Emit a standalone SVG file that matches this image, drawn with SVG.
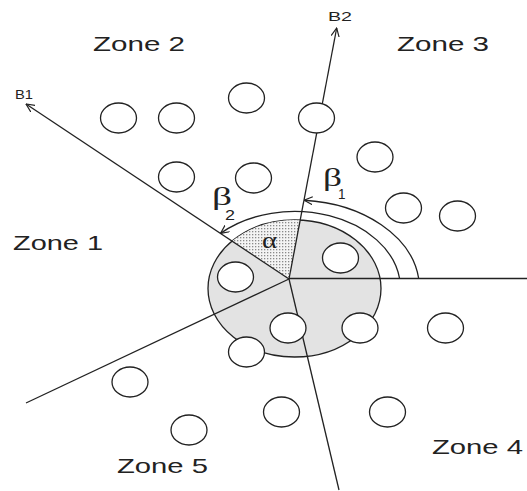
<svg xmlns="http://www.w3.org/2000/svg" width="527" height="491" viewBox="0 0 527 491">
  <style>
    .ln { fill: none; stroke: #222; stroke-width: 1.3; }
    .nd { fill: #fff; stroke: #222; stroke-width: 1.3; }
    .zone { font-family: "Liberation Sans", Arial, sans-serif; font-size: 21px; fill: #222; }
    .lbl { font-family: "Liberation Sans", Arial, sans-serif; font-size: 13px; fill: #222; }
    .gr { font-family: "Liberation Serif", "Times New Roman", serif; fill: #222; }
    .sub { font-family: "Liberation Sans", Arial, sans-serif; font-size: 14px; fill: #222; }
  </style>
  <defs>
    <marker id="arr" viewBox="0 0 10 10" refX="9.5" refY="5" markerWidth="9" markerHeight="9" markerUnits="userSpaceOnUse" orient="auto-start-reverse">
      <path d="M0,0.5 L9.5,5 L0,9.5" fill="none" stroke="#222" stroke-width="1.3"/>
    </marker>
    <pattern id="dots" width="3" height="3" patternUnits="userSpaceOnUse">
      <rect width="3" height="3" fill="#f4f4f4"/>
      <rect width="1.3" height="1.3" fill="#8a8a8a"/>
    </pattern>
  </defs>

  <rect width="527" height="491" fill="#fff"/>

  <!-- coverage region -->
  <g id="coverage">
    <ellipse cx="294.5" cy="288.5" rx="86.5" ry="68.5" fill="#e3e3e3" stroke="#222" stroke-width="1.3"/>
    <path id="alpha-sector" d="M289,279 L232.05,241.11 A86.5,68.5 0 0 1 300.25,220.15 Z" fill="url(#dots)" stroke="none"/>
  </g>

  <!-- connectors / boundary lines -->
  <g id="connectors">
    <path class="ln" d="M289,279 L26,104" marker-end="url(#arr)"/>
    <path class="ln" d="M289,279 L336.7,28" marker-end="url(#arr)"/>
    <path class="ln" d="M289,279 L339,490"/>
    <path class="ln" d="M289,279 L26,403"/>
    <path class="ln" d="M289,278.5 L527,278.5"/>
    <path class="ln" d="M220.46,233.39 A106,77 0 0 1 399.6,278.5" marker-start="url(#arr)"/>
    <path class="ln" d="M304.06,200.26 A125,88.5 0 0 1 418.7,278.5" marker-start="url(#arr)"/>
  </g>

  <!-- nodes -->
  <g id="n1"><ellipse class="nd" cx="118.5" cy="118" rx="18" ry="15"/></g>
  <g id="n2"><ellipse class="nd" cx="176.5" cy="118" rx="18" ry="15" stroke-width="1.9"/></g>
  <g id="n3"><ellipse class="nd" cx="246.5" cy="98" rx="18" ry="15"/></g>
  <g id="n4"><ellipse class="nd" cx="316.5" cy="118" rx="18" ry="15"/></g>
  <g id="n5"><ellipse class="nd" cx="375" cy="157" rx="18" ry="15"/></g>
  <g id="n6"><ellipse class="nd" cx="403.5" cy="208" rx="18" ry="15"/></g>
  <g id="n7"><ellipse class="nd" cx="457.5" cy="216" rx="18" ry="15"/></g>
  <g id="n8"><ellipse class="nd" cx="253.5" cy="178" rx="18" ry="15"/></g>
  <g id="n9"><ellipse class="nd" cx="176.5" cy="177" rx="18" ry="15"/></g>
  <g id="n10"><ellipse class="nd" cx="235.5" cy="277" rx="18" ry="15"/></g>
  <g id="n11"><ellipse class="nd" cx="340.5" cy="258" rx="18" ry="15"/></g>
  <g id="n12"><ellipse class="nd" cx="288" cy="328" rx="18" ry="15"/></g>
  <g id="n13"><ellipse class="nd" cx="246.5" cy="352" rx="18" ry="15"/></g>
  <g id="n14"><ellipse class="nd" cx="360" cy="328" rx="18" ry="15"/></g>
  <g id="n15"><ellipse class="nd" cx="445.5" cy="328" rx="18" ry="15"/></g>
  <g id="n16"><ellipse class="nd" cx="281.5" cy="412" rx="18" ry="15"/></g>
  <g id="n17"><ellipse class="nd" cx="387.5" cy="412" rx="18" ry="15"/></g>
  <g id="n18"><ellipse class="nd" cx="130" cy="382" rx="18" ry="15"/></g>
  <g id="n19"><ellipse class="nd" cx="189" cy="430" rx="18" ry="15"/></g>

  <!-- labels -->
  <g id="labels">
    <text class="zone" x="93" y="51" textLength="92" lengthAdjust="spacingAndGlyphs">Zone 2</text>
    <text class="zone" x="397" y="51" textLength="92" lengthAdjust="spacingAndGlyphs">Zone 3</text>
    <text class="zone" x="13" y="250" textLength="90" lengthAdjust="spacingAndGlyphs">Zone 1</text>
    <text class="zone" x="117" y="472.5" textLength="91" lengthAdjust="spacingAndGlyphs">Zone 5</text>
    <text class="zone" x="432" y="454" textLength="91" lengthAdjust="spacingAndGlyphs">Zone 4</text>
    <text class="lbl" x="15" y="99" textLength="18" lengthAdjust="spacingAndGlyphs">B1</text>
    <text class="lbl" x="328" y="20.5" textLength="24" lengthAdjust="spacingAndGlyphs">B2</text>
    <text class="gr" x="323" y="186" font-size="26" textLength="19" lengthAdjust="spacingAndGlyphs">β</text>
    <text class="sub" x="338" y="199" textLength="7.5" lengthAdjust="spacingAndGlyphs">1</text>
    <text class="gr" x="212" y="205" font-size="26" textLength="20" lengthAdjust="spacingAndGlyphs">β</text>
    <text class="sub" x="225" y="220" textLength="10" lengthAdjust="spacingAndGlyphs">2</text>
    <text class="gr" x="262" y="248" font-size="24" textLength="15" lengthAdjust="spacingAndGlyphs">α</text>
  </g>
</svg>
